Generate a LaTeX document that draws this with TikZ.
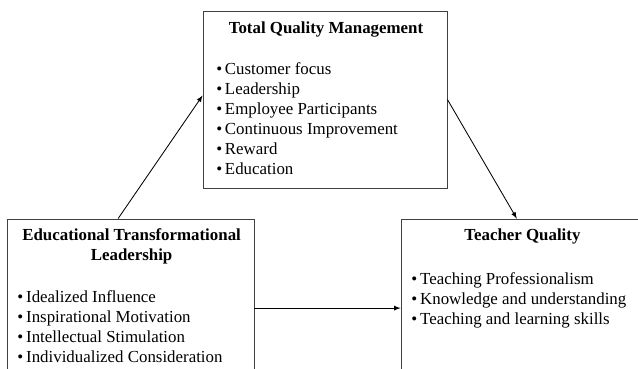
\documentclass[tikz,border=0pt]{standalone}
\usepackage{fontspec}
\setmainfont{Liberation Serif}
\usepackage{tikz}
\usetikzlibrary{arrows}
\tikzset{box/.style={rectangle,draw=black!75,line width=0.6pt,inner sep=0pt}}
\tikzset{title/.style={font=\fontsize{12}{14.2}\selectfont\bfseries,align=center,inner sep=0pt}}
\tikzset{items/.style={font=\fontsize{12}{14.2}\selectfont,align=left,inner sep=0pt,anchor=north west}}
\tikzset{link/.style={->,>=latex,line width=0.6pt}}
\newcommand{\itm}{\textbullet\hspace{2pt}}

\begin{document}
\begin{tikzpicture}
    \clip (0,0) rectangle (15.95,-9.2);
    \node[box,minimum width=6.1cm,minimum height=4.425cm] (tqm) at (8.125,-2.4875) {};
    \node[title] (tqmtitle) at (8.15,-0.74) {Total Quality Management};
    \node[items] (tqmlist) at (5.4,-1.56) {\itm Customer focus\\ \itm Leadership\\ \itm Employee Participants\\ \itm Continuous Improvement\\ \itm Reward\\ \itm Education};
    \node[box,minimum width=6.175cm,minimum height=4.275cm] (etl) at (3.2625,-7.6125) {};
    \node[title] (etltitle) at (3.29,-6.17) {Educational Transformational\\Leadership};
    \node[items] (etllist) at (0.43,-7.25) {\itm Idealized Influence\\ \itm Inspirational Motivation\\ \itm Intellectual Stimulation\\ \itm Individualized Consideration};
    \node[box,minimum width=6.05cm,minimum height=4.275cm] (tq) at (13.05,-7.6125) {};
    \node[title] (tqtitle) at (13.06,-5.9) {Teacher Quality};
    \node[items] (tqlist) at (10.28,-6.8) {\itm Teaching Professionalism\\ \itm Knowledge and understanding\\ \itm Teaching and learning skills};
    \draw[link] ([xshift=-0.31cm]etl.north) -- ([yshift=0.1cm]tqm.west);
    \draw[link] (tqm.east) -- ([xshift=-0.13cm]tq.north);
    \draw[link] ([yshift=-0.09cm]etl.east) -- ([yshift=-0.09cm]tq.west);
\end{tikzpicture}
\end{document}
